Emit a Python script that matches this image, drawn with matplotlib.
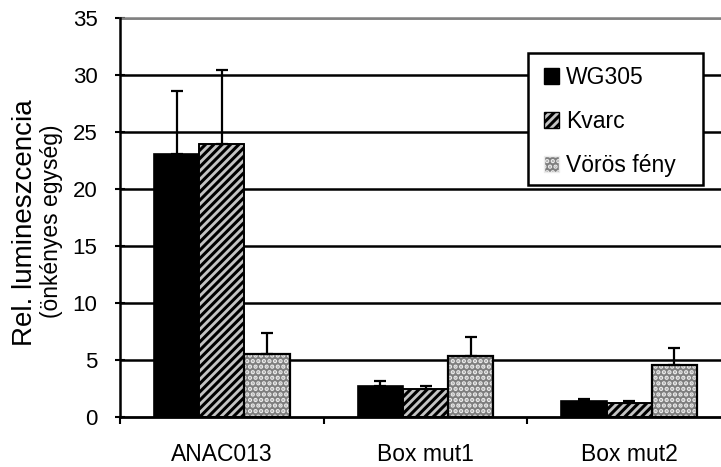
import matplotlib
matplotlib.use("Agg")
import matplotlib.pyplot as plt
from matplotlib.patches import Patch, Rectangle
import numpy as np

plt.rcParams['font.family'] = ['Liberation Sans', 'DejaVu Sans']
plt.rcParams['hatch.linewidth'] = 2.2

categories = ["ANAC013", "Box mut1", "Box mut2"]
series_names = ["WG305", "Kvarc", "Vörös fény"]
wg305 = [23.1, 2.7, 1.4]
wg305_err = [5.5, 0.4, 0.13]
kvarc = [24.0, 2.45, 1.18]
kvarc_err = [6.5, 0.27, 0.17]
voros = [5.5, 5.35, 4.55]
voros_err = [1.85, 1.65, 1.45]
yticks = [0, 5, 10, 15, 20, 25, 30, 35]

W, H = 721, 467
fig = plt.figure(figsize=(W / 100, H / 100), dpi=100)
ax = fig.add_axes([120 / W, (H - 416.7) / H, 611 / W, 398.4 / H])

x = np.arange(len(categories))
bw = 0.222
err_kw = dict(ecolor='black', elinewidth=1.6, capsize=4.3, capthick=1.6)
kv_face = '#c4c4c4'
vr_face = '#7e7e7e'
vr_dot = '#ececec'

# WG305 solid black
ax.bar(x - bw, wg305, bw, color='black', edgecolor='black', linewidth=1.2, zorder=3)
ax.errorbar(x - bw, wg305, yerr=[np.zeros(3), wg305_err], fmt='none', zorder=4, **err_kw)

# Kvarc hatched
ax.bar(x, kvarc, bw, color=kv_face, edgecolor='black', linewidth=1.2, zorder=3)
ax.bar(x, kvarc, bw, color='none', edgecolor='black', hatch='////', linewidth=0, zorder=3.1)
ax.bar(x, kvarc, bw, color='none', edgecolor='black', linewidth=1.2, zorder=3.2)
ax.errorbar(x, kvarc, yerr=[np.zeros(3), kvarc_err], fmt='none', zorder=4, **err_kw)

# Vörös fény dotted
ax.bar(x + bw, voros, bw, color=vr_face, edgecolor='black', linewidth=1.2, zorder=3)
ax.bar(x + bw, voros, bw, color='none', edgecolor=vr_dot, hatch='...', linewidth=0, zorder=3.1)
ax.bar(x + bw, voros, bw, color='none', edgecolor='black', linewidth=1.6, zorder=3.2)
ax.errorbar(x + bw, voros, yerr=[np.zeros(3), voros_err], fmt='none', zorder=4, **err_kw)

ax.set_xlim(-0.5, len(categories) - 0.5)
ax.set_ylim(0, 35)
ax.set_yticks(yticks)
ax.set_yticklabels([str(t) for t in yticks], fontsize=16)
ax.set_xticks(x)
ax.set_xticklabels(categories, fontsize=16.5)
ax.set_xticks(np.arange(len(categories) + 1) - 0.5, minor=True)

ax.tick_params(axis='y', which='major', direction='inout', length=7.5, width=1.5, pad=12.5, color='black')
ax.tick_params(axis='x', which='major', length=0, pad=19)
ax.tick_params(axis='x', which='minor', direction='out', length=5, width=1.5, color='black')

ax.yaxis.grid(True, color='black', linewidth=1.8, zorder=1)
ax.set_axisbelow(True)
glines = ax.get_ygridlines()
glines[0].set_visible(False)
glines[-1].set_color('#808080')

ax.spines['right'].set_visible(False)
ax.spines['top'].set_color('#808080')
ax.spines['top'].set_linewidth(1.8)
ax.spines['left'].set_linewidth(1.8)
ax.spines['bottom'].set_linewidth(2.0)
ax.spines['left'].set_zorder(5)
ax.spines['bottom'].set_zorder(5)

fig.text(25 / W, 1 - 223 / H, "Rel. lumineszcencia", rotation=90, fontsize=20,
         ha='center', va='center')
fig.text(52 / W, 1 - 221 / H, "(önkényes egység)", rotation=90, fontsize=16.5,
         ha='center', va='center')

# legend frame
fig.patches.append(Rectangle((528 / W, 1 - 185 / H), 175 / W, 132 / H,
                             transform=fig.transFigure, facecolor='white',
                             edgecolor='black', linewidth=1.8, zorder=9))

handles = [
    Patch(facecolor='black', edgecolor='black', linewidth=1),
    Patch(facecolor=kv_face, edgecolor='black', hatch='////', linewidth=1),
    Patch(facecolor=vr_face, edgecolor=vr_dot, hatch='...', linewidth=1),
]
leg = fig.legend(handles, series_names, loc='upper left',
                 bbox_to_anchor=(544 / W, 1 - 66 / H), bbox_transform=fig.transFigure,
                 borderaxespad=0, fontsize=16.5, frameon=False,
                 handlelength=0.65, handleheight=0.65, handletextpad=0.3, labelspacing=0.92,
                 borderpad=0)
leg.set_zorder(10)

fig.savefig("out.png", dpi=100)
